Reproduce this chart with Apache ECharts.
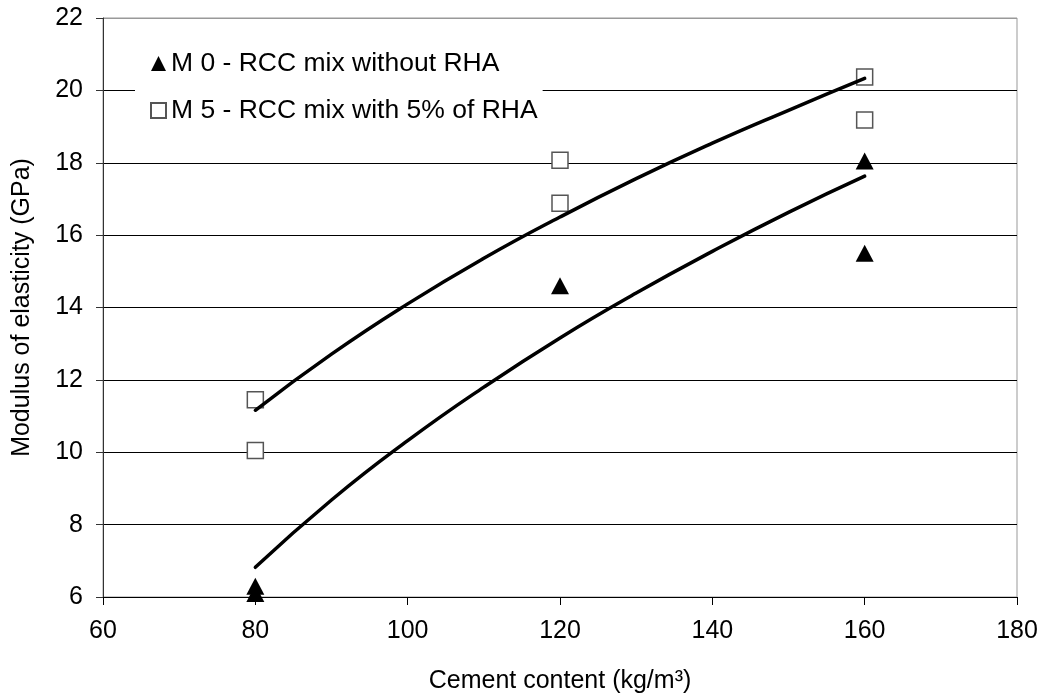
<!DOCTYPE html>
<html>
<head>
<meta charset="utf-8">
<script src="https://cdn.jsdelivr.net/npm/echarts@6/dist/echarts.min.js"></script>
<style>html,body{margin:0;padding:0;background:#fff}#c{width:1047px;height:699px}</style>
</head>
<body>
<div id="c"></div>
<script>
// Measured points
const m0Points = [[80, 6.3], [80, 6.1], [120, 14.6], [160, 18.05], [160, 15.5]];
const m5Points = [[80, 11.45], [80, 10.05], [120, 18.07], [120, 16.88], [160, 20.37], [160, 19.18]];
// Trendlines
const trendX = [80, 90, 100, 110, 120, 130, 140, 150, 160];
const m0Trend = [6.82, 8.68, 10.32, 11.8, 13.16, 14.4, 15.55, 16.63, 17.63];
const m5Trend = [11.16, 12.71, 14.1, 15.36, 16.5, 17.56, 18.54, 19.45, 20.33];
const names = ['M 0 - RCC mix without RHA', 'M 5 - RCC mix with 5% of RHA'];

const FONT = 'Liberation Sans, Arial, sans-serif';
const chart = echarts.init(document.getElementById('c'));
chart.setOption({
  animation: false,
  backgroundColor: '#fff',
  grid: { left: 103, right: 30, top: 18, bottom: 100, show: true, borderColor: '#999', borderWidth: 1, backgroundColor: 'transparent' },
  legend: {
    orient: 'vertical', left: 135, top: 40,
    padding: [10, 5, 10, 15],
    backgroundColor: '#fff',
    itemWidth: 15, itemHeight: 15, itemGap: 20,
    textStyle: { fontFamily: FONT, fontSize: 26.5, color: '#000' },
    data: [{ name: names[0], icon: 'triangle' }, { name: names[1], icon: 'rect' }]
  },
  xAxis: {
    type: 'value', min: 60, max: 180, interval: 20,
    name: 'Cement content (kg/m³)', nameLocation: 'middle', nameGap: 72,
    nameTextStyle: { fontFamily: FONT, fontSize: 25, color: '#000' },
    axisLine: { lineStyle: { color: '#000', width: 1 } },
    axisTick: { show: true, length: 8, lineStyle: { color: '#000' } },
    axisLabel: { fontFamily: FONT, fontSize: 25, color: '#000', margin: 22 },
    splitLine: { show: false }
  },
  yAxis: {
    type: 'value', min: 6, max: 22, interval: 2,
    name: 'Modulus of elasticity (GPa)', nameLocation: 'middle', nameGap: 68,
    nameTextStyle: { fontFamily: FONT, fontSize: 25, color: '#000' },
    axisLine: { show: true, lineStyle: { color: '#333', width: 1 } },
    axisTick: { show: true, length: 7, lineStyle: { color: '#333' } },
    axisLabel: { fontFamily: FONT, fontSize: 25, color: '#000', margin: 20 },
    splitLine: { show: true, lineStyle: { color: ['#000','#000','#000','#000','#000','#000','#000','#000','#999'], width: 1 } }
  },
  series: [
    {
      name: names[0], type: 'scatter', symbol: 'triangle', symbolSize: [18, 17], z: 3,
      data: m0Points, itemStyle: { color: '#000', opacity: 1 }
    },
    {
      name: names[1], type: 'scatter', symbol: 'rect', symbolSize: 16, z: 3,
      data: m5Points, itemStyle: { color: '#fff', borderColor: '#555', borderWidth: 1.5, opacity: 1 }
    },
    {
      name: 'trend0', type: 'line', smooth: true, symbol: 'none', z: 5,
      data: trendX.map((x, i) => [x, m0Trend[i]]),
      lineStyle: { color: '#000', width: 3.5, cap: 'round' }
    },
    {
      name: 'trend5', type: 'line', smooth: true, symbol: 'none', z: 5,
      data: trendX.map((x, i) => [x, m5Trend[i]]),
      lineStyle: { color: '#000', width: 3.5, cap: 'round' }
    }
  ]
});
</script>
</body>
</html>
